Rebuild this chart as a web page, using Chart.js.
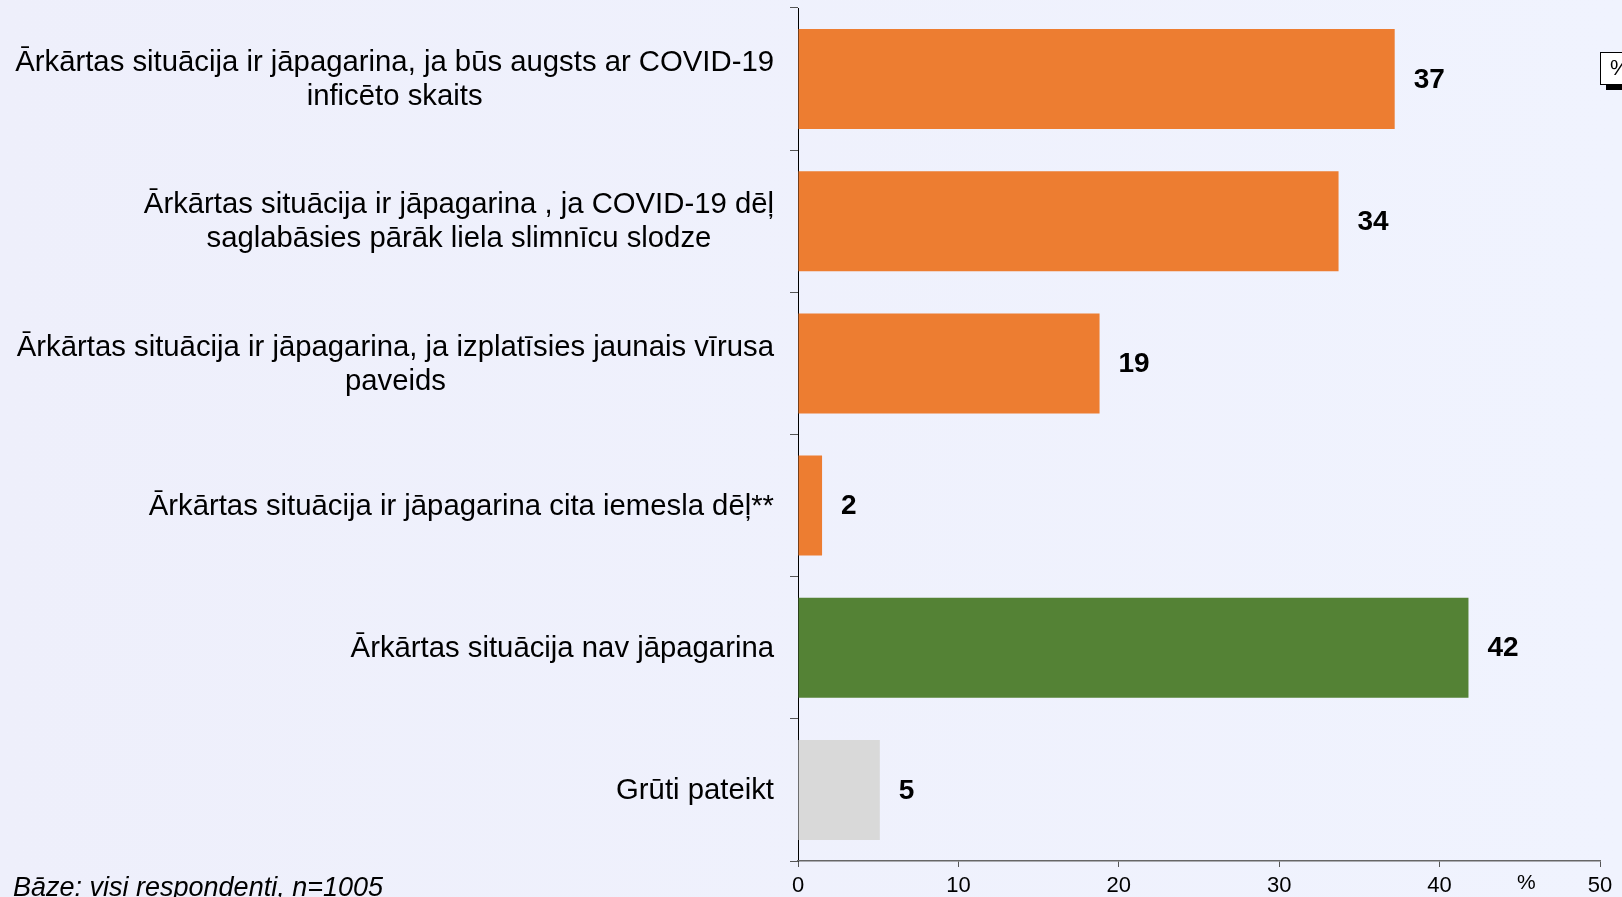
<!DOCTYPE html>
<html>
<head>
<meta charset="utf-8">
<script src="https://cdn.jsdelivr.net/npm/chart.js@4.4.1/dist/chart.umd.min.js"></script>
<style>
  html, body { margin: 0; padding: 0; }
  body { width: 1622px; height: 897px; overflow: hidden;
         background: linear-gradient(90deg, #EEEFFB 0%, #F0F3FE 100%); }
  #wrap { position: relative; width: 1622px; height: 897px; }
  canvas { display: block; }
</style>
</head>
<body>
<div id="wrap"><canvas id="c" width="1622" height="897"></canvas></div>
<script>
// ---- data ----
const categories = [
  ["Ārkārtas situācija ir jāpagarina, ja būs augsts ar COVID-19", "inficēto skaits"],
  ["Ārkārtas situācija ir jāpagarina , ja COVID-19 dēļ", "saglabāsies pārāk liela slimnīcu slodze"],
  ["Ārkārtas situācija ir jāpagarina, ja izplatīsies jaunais vīrusa", "paveids"],
  ["Ārkārtas situācija ir jāpagarina cita iemesla dēļ**"],
  ["Ārkārtas situācija nav jāpagarina"],
  ["Grūti pateikt"]
];
const values = [37.2, 33.7, 18.8, 1.5, 41.8, 5.1];
const valueLabels = ["37", "34", "19", "2", "42", "5"];
const barColors = ["#ED7D31", "#ED7D31", "#ED7D31", "#ED7D31", "#548235", "#D9D9D9"];
const xTicks = [0, 10, 20, 30, 40, 50];
const axisUnit = "%";
const baseNote = "Bāze: visi respondenti, n=1005";
const legendFragment = "%";

const FONT = "'Liberation Sans', Arial, sans-serif";

const customText = {
  id: 'customText',
  afterDraw(chart) {
    const ctx = chart.ctx;
    const ys = chart.scales.y, xs = chart.scales.x;
    const area = chart.chartArea;
    ctx.save();
    // category labels: block right-aligned, lines centred within block
    ctx.font = "29.3px " + FONT;
    ctx.fillStyle = "#000";
    ctx.textBaseline = "middle";
    ctx.textAlign = "center";
    const lh = 34;
    categories.forEach((lines, i) => {
      const y = ys.getPixelForTick(i);
      const w = Math.max(...lines.map(l => ctx.measureText(l).width));
      const right = area.left - 24;
      const cx = right - w / 2;
      lines.forEach((l, j) => {
        ctx.fillText(l, cx, y + (j - (lines.length - 1) / 2) * lh + 1);
      });
    });
    // value labels
    ctx.font = "bold 28px " + FONT;
    ctx.textAlign = "left";
    const meta = chart.getDatasetMeta(0);
    meta.data.forEach((bar, i) => {
      ctx.fillText(valueLabels[i], xs.getPixelForValue(values[i]) + 19, bar.y + 1);
    });
    // axis unit
    ctx.font = "21px " + FONT;
    ctx.textAlign = "center";
    ctx.textBaseline = "alphabetic";
    ctx.fillText(axisUnit, xs.getPixelForValue(45.4), area.bottom + 28);
    // base note
    ctx.font = "italic 27px " + FONT;
    ctx.textAlign = "left";
    ctx.fillText(baseNote, 13, 896);
    // legend fragment at top right (cut off by canvas edge)
    const lx = area.right, ly = 52;
    ctx.fillStyle = "#000";
    ctx.fillRect(lx + 6, ly + 32, 40, 6);
    ctx.fillStyle = "#FFFFFF";
    ctx.fillRect(lx, ly, 40, 32);
    ctx.strokeStyle = "#000";
    ctx.lineWidth = 1;
    ctx.strokeRect(lx + 0.5, ly + 0.5, 40, 32);
    ctx.fillStyle = "#000";
    ctx.font = "22px " + FONT;
    ctx.textBaseline = "middle";
    ctx.fillText(legendFragment, lx + 10, ly + 17);
    ctx.restore();
  }
};

new Chart(document.getElementById('c'), {
  type: 'bar',
  data: {
    labels: categories,
    datasets: [{
      data: values,
      backgroundColor: barColors,
      borderWidth: 0,
      barPercentage: 0.703,
      categoryPercentage: 1.0
    }]
  },
  options: {
    indexAxis: 'y',
    responsive: false,
    animation: false,
    devicePixelRatio: 1,
    layout: { padding: { top: 8, right: 22, left: 0, bottom: 0 } },
    plugins: { legend: { display: false }, tooltip: { enabled: false } },
    scales: {
      y: {
        offset: true,
        grid: { display: true, offset: true, drawOnChartArea: false, drawTicks: true,
                tickLength: 8, color: '#555555', lineWidth: 1 },
        border: { display: true, color: '#000000', width: 1 },
        ticks: { display: false },
        afterFit(scale) { scale.width = 798; }
      },
      x: {
        min: 0, max: 50,
        afterBuildTicks(scale) { scale.ticks = xTicks.map(v => ({ value: v })); },
        grid: { display: true, drawOnChartArea: false, drawTicks: true,
                tickLength: 6, color: '#555555', lineWidth: 1 },
        border: { display: true, color: '#666666', width: 1.5 },
        ticks: { color: '#000', font: { family: FONT, size: 22 }, padding: 6, maxRotation: 0 },
        afterFit(scale) { scale.height = 36; }
      }
    }
  },
  plugins: [customText]
});
</script>
</body>
</html>
